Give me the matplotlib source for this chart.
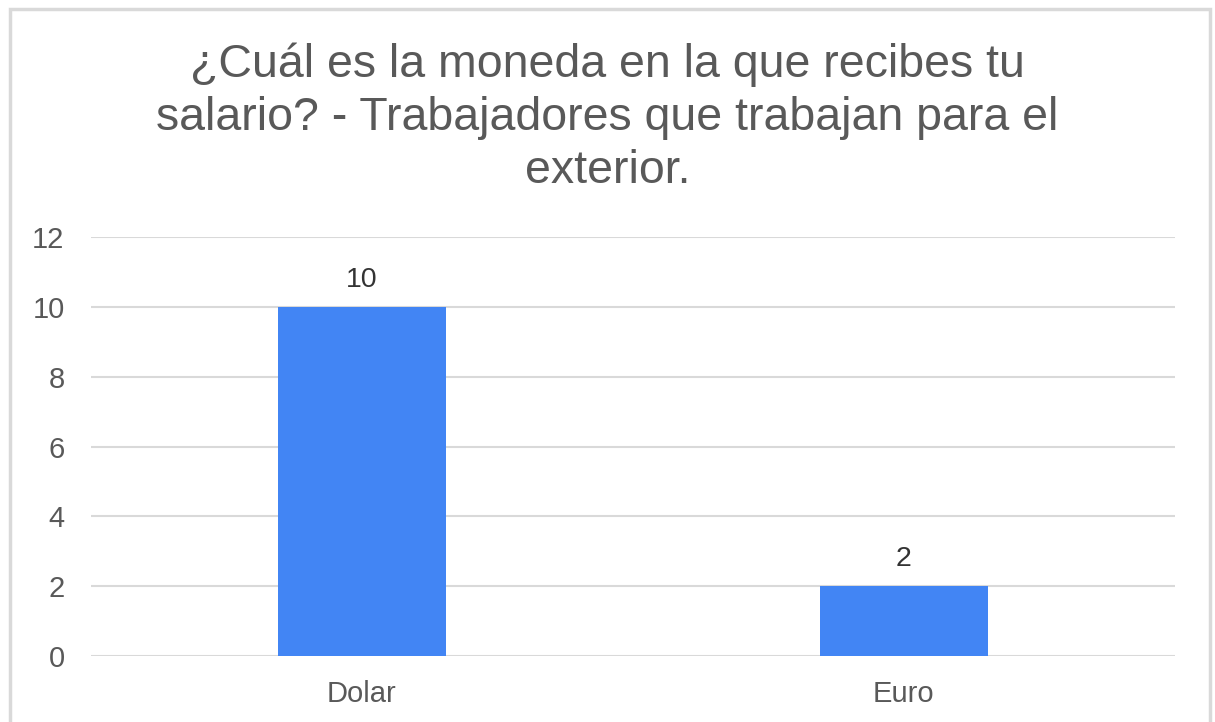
import matplotlib.pyplot as plt
from matplotlib.patches import Rectangle

# data
categories = ['Dolar', 'Euro']
counts = [10, 2]
y_ticks = [0, 2, 4, 6, 8, 10, 12]
title = '¿Cuál es la moneda en la que recibes tu\nsalario? - Trabajadores que trabajan para el\nexterior.'

plt.rcParams['font.family'] = ['Liberation Sans', 'DejaVu Sans']
text_col = '#595959'
bar_col = '#4285f4'

fig = plt.figure(figsize=(12.15, 7.22), dpi=100)
ax = fig.add_axes([0.0749, 0.0914, 0.8921, 0.5803])

# outer chart border
fig.patches.append(Rectangle((10 / 1215, -0.01), 1200 / 1215, 1 - 9 / 722 + 0.01,
                             transform=fig.transFigure, fill=False,
                             edgecolor='#d9d9d9', linewidth=2.5))

x = range(len(categories))
bars = ax.bar(x, counts, width=0.31, color=bar_col, zorder=3)
ax.bar_label(bars, labels=[str(c) for c in counts], padding=10,
             fontsize=20.5, color='#333333')

ax.set_xlim(-0.5, 1.5)
ax.set_ylim(0, 12)
ax.set_yticks(y_ticks)
ax.set_xticks(list(x))
ax.set_xticklabels(categories)
ax.yaxis.grid(True, color='#d9d9d9', linewidth=1.5, zorder=0)
ax.set_axisbelow(True)
for s in ax.spines.values():
    s.set_visible(False)
ax.tick_params(axis='both', length=0, labelsize=21, labelcolor=text_col)
ax.tick_params(axis='y', pad=19)
ax.tick_params(axis='x', pad=17)

fig.text(0.5, 0.8366, title, ha='center', va='center', fontsize=33.5,
         color=text_col, linespacing=1.27)

plt.savefig('out.png', dpi=100)
